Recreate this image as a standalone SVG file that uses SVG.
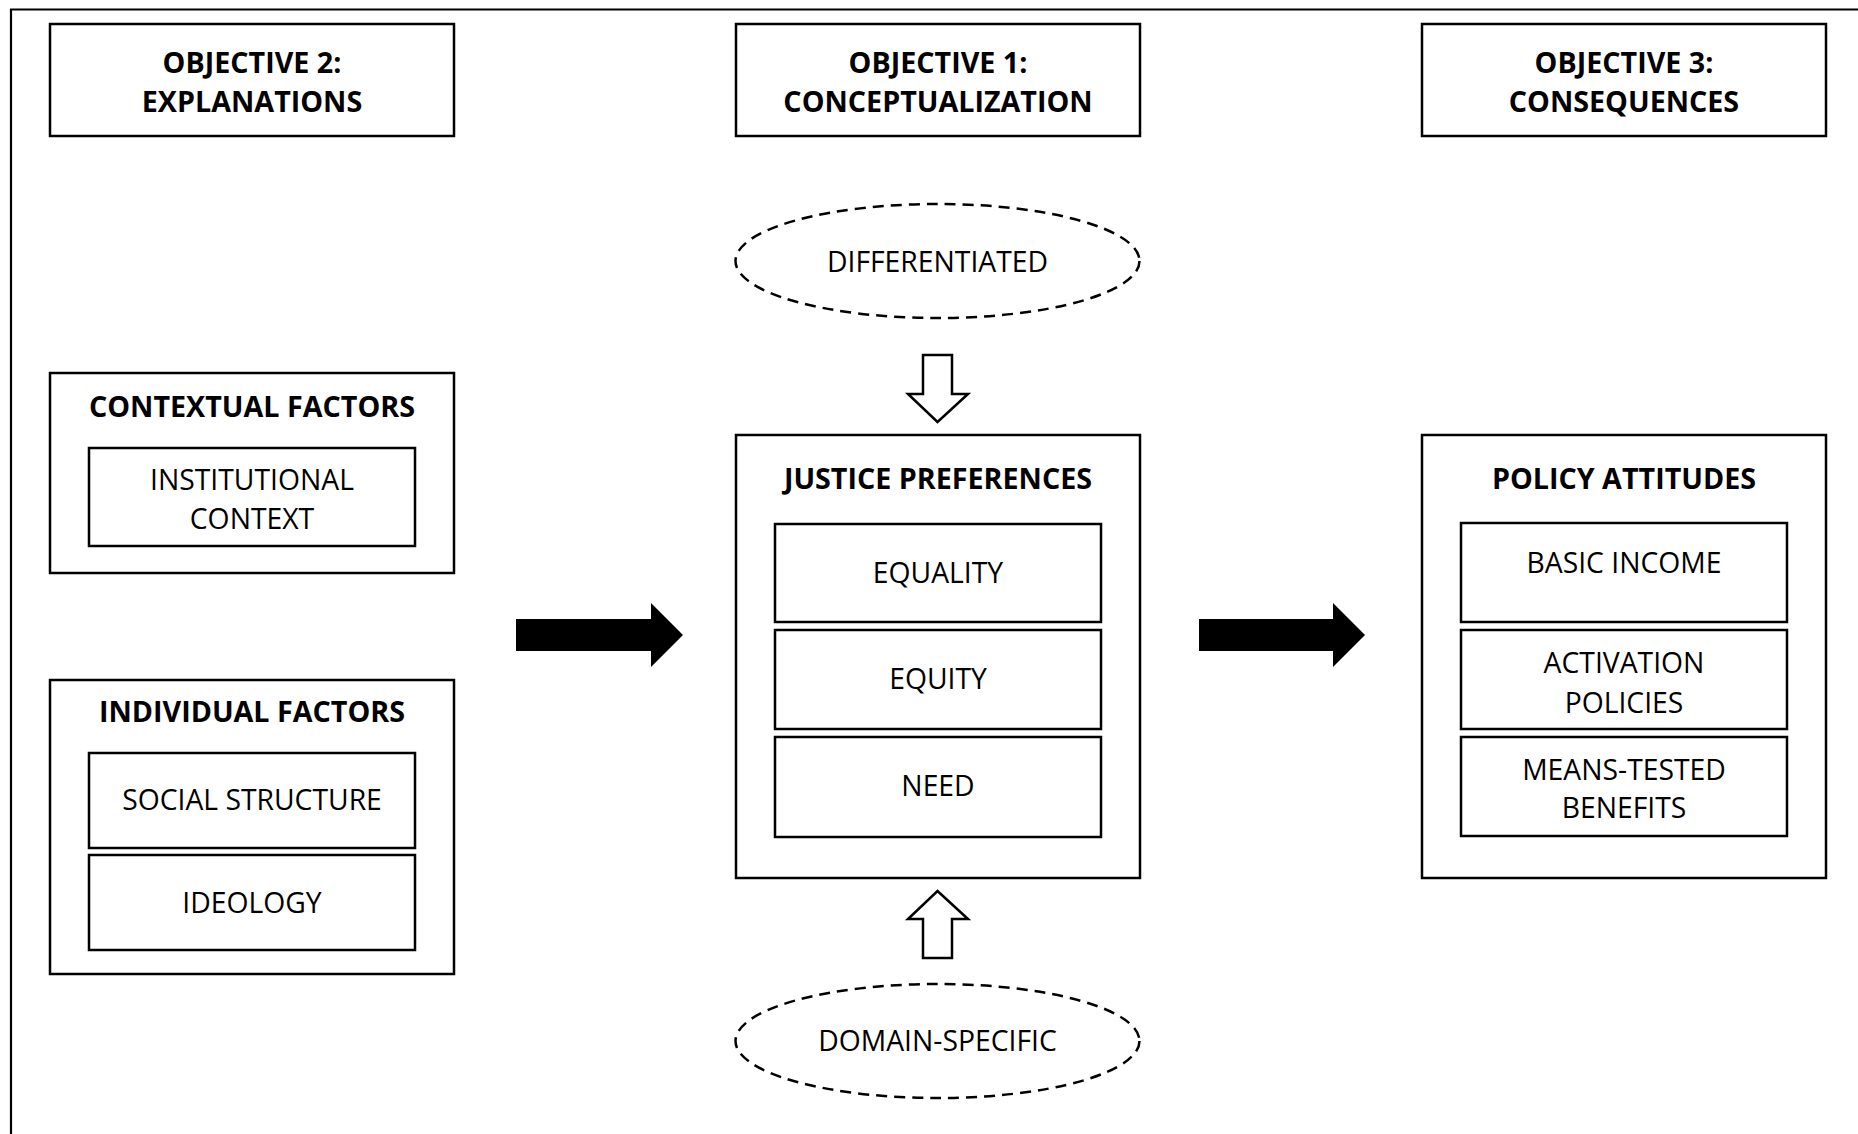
<svg xmlns="http://www.w3.org/2000/svg" width="1858" height="1134" viewBox="0 0 1858 1134">
<style>
.box{fill:#fff;stroke:#000;stroke-width:2.5}
.ell{fill:#fff;stroke:#000;stroke-width:2.5;stroke-dasharray:11 7}
.t{font-family:"Open Sans","Noto Sans","DejaVu Sans",sans-serif;font-size:28.3px;fill:#000;text-anchor:middle}
.b{font-weight:bold;font-size:28.7px}
.hollow{fill:#fff;stroke:#000;stroke-width:2.5;stroke-linejoin:miter}
.solid{fill:#000;stroke:none}
</style>
<rect x="0" y="0" width="1858" height="1134" fill="#fff"/>
<path d="M11 1134 V9.5 H1858" fill="none" stroke="#000" stroke-width="2.2"/>

<g id="obj2"><rect class="box" x="50" y="24" width="404" height="112"/><text class="t b" x="252" y="73">OBJECTIVE 2:</text><text class="t b" x="252" y="112">EXPLANATIONS</text></g>
<g id="obj1"><rect class="box" x="736" y="24" width="404" height="112"/><text class="t b" x="938" y="73">OBJECTIVE 1:</text><text class="t b" x="938" y="112">CONCEPTUALIZATION</text></g>
<g id="obj3"><rect class="box" x="1422" y="24" width="404" height="112"/><text class="t b" x="1624" y="73">OBJECTIVE 3:</text><text class="t b" x="1624" y="112">CONSEQUENCES</text></g>

<g id="differentiated"><ellipse class="ell" cx="937.5" cy="261" rx="202" ry="57"/><text class="t" x="937.5" y="272">DIFFERENTIATED</text></g>
<g id="domain-specific"><ellipse class="ell" cx="937.5" cy="1041" rx="202" ry="57"/><text class="t" x="937.5" y="1051">DOMAIN-SPECIFIC</text></g>

<g id="contextual-factors"><rect class="box" x="50" y="373" width="404" height="200"/><text class="t b" x="252" y="417">CONTEXTUAL FACTORS</text>
<g id="institutional-context"><rect class="box" x="89" y="448" width="326" height="98"/><text class="t" x="252" y="490">INSTITUTIONAL</text><text class="t" x="252" y="529">CONTEXT</text></g></g>

<g id="individual-factors"><rect class="box" x="50" y="680" width="404" height="294"/><text class="t b" x="252" y="722">INDIVIDUAL FACTORS</text>
<g id="social-structure"><rect class="box" x="89" y="753" width="326" height="95"/><text class="t" x="252" y="810">SOCIAL STRUCTURE</text></g>
<g id="ideology"><rect class="box" x="89" y="855" width="326" height="95"/><text class="t" x="252" y="913">IDEOLOGY</text></g></g>

<g id="justice-preferences"><rect class="box" x="736" y="435" width="404" height="443"/><text class="t b" x="938" y="489">JUSTICE PREFERENCES</text>
<g id="equality"><rect class="box" x="775" y="524" width="326" height="98"/><text class="t" x="938" y="583">EQUALITY</text></g>
<g id="equity"><rect class="box" x="775" y="630" width="326" height="99"/><text class="t" x="938" y="689">EQUITY</text></g>
<g id="need"><rect class="box" x="775" y="737" width="326" height="100"/><text class="t" x="938" y="796">NEED</text></g></g>

<g id="policy-attitudes"><rect class="box" x="1422" y="435" width="404" height="443"/><text class="t b" x="1624" y="489">POLICY ATTITUDES</text>
<g id="basic-income"><rect class="box" x="1461" y="523" width="326" height="99"/><text class="t" x="1624" y="573">BASIC INCOME</text></g>
<g id="activation-policies"><rect class="box" x="1461" y="630" width="326" height="99"/><text class="t" x="1624" y="673">ACTIVATION</text><text class="t" x="1624" y="713">POLICIES</text></g>
<g id="means-tested-benefits"><rect class="box" x="1461" y="737" width="326" height="99"/><text class="t" x="1624" y="780">MEANS-TESTED</text><text class="t" x="1624" y="818">BENEFITS</text></g></g>

<g id="connectors">
<polygon class="solid" points="516,619 651,619 651,603 683,635 651,667 651,651 516,651"/>
<polygon class="solid" points="1199,619 1333,619 1333,603 1365,635 1333,667 1333,651 1199,651"/>
<polygon class="hollow" points="923,355 952,355 952,394 968,394 937.5,422 908,394 923,394"/>
<polygon class="hollow" points="937.5,891 968,919 952,919 952,958 923,958 923,919 908,919"/>
</g>
</svg>
